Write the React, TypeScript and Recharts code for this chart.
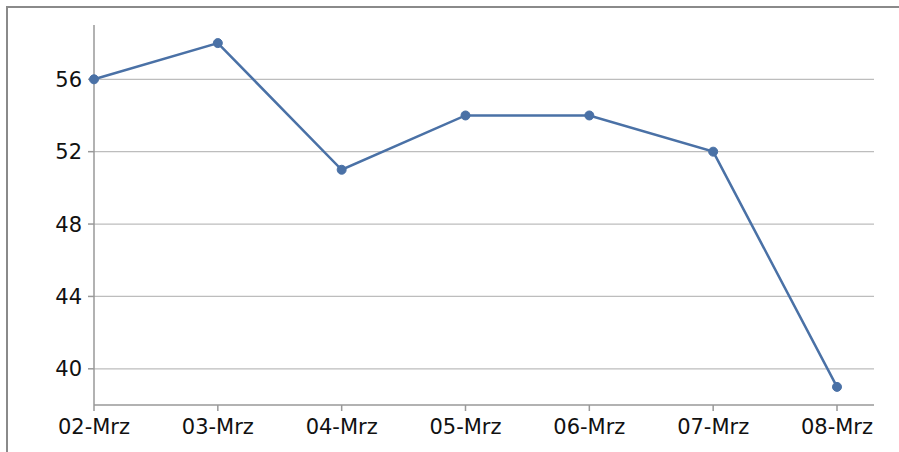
import { CartesianGrid, Line, LineChart, XAxis, YAxis } from "recharts";

const days = ["02-Mrz", "03-Mrz", "04-Mrz", "05-Mrz", "06-Mrz", "07-Mrz", "08-Mrz"];
const values = [56, 58, 51, 54, 54, 52, 39];
const yTicks = [40, 44, 48, 52, 56];

const data = days.map((day, i) => ({ day, value: values[i] }));

export default function App() {
  return (
    <div
      style={{
        position: "fixed",
        top: 0,
        left: 0,
        width: 899,
        height: 452,
        overflow: "hidden",
        background: "#fff",
      }}
    >
      <div
        style={{
          position: "absolute",
          left: 6,
          top: 6,
          width: 930,
          height: 480,
          border: "2px solid #8a8a8a",
          boxSizing: "border-box",
        }}
      />
      <div style={{ position: "absolute", left: 0, top: 0 }}>
        <LineChart
          width={899}
          height={452}
          data={data}
          margin={{ top: 25, right: 25, left: 34, bottom: 17 }}
          style={{ fontFamily: "DejaVu Sans" }}
        >
          <CartesianGrid
            vertical={false}
            horizontalValues={yTicks}
            stroke="#bdbdbd"
            strokeWidth={1.2}
          />
          <XAxis
            dataKey="day"
            height={30}
            padding={{ left: 0, right: 37 }}
            stroke="#999"
            strokeWidth={1.5}
            tickSize={6}
            tick={{ fill: "#111", fontSize: 21 }}
            tickMargin={8}
            interval={0}
          />
          <YAxis
            width={60}
            domain={[38, 59]}
            ticks={yTicks}
            allowDataOverflow
            stroke="#999"
            strokeWidth={1.5}
            tickSize={6}
            tick={{ fill: "#111", fontSize: 21 }}
            tickMargin={6}
          />
          <Line
            dataKey="value"
            stroke="#4a71a6"
            strokeWidth={2.5}
            dot={{ r: 4.5, fill: "#4a71a6", stroke: "#4a71a6", strokeWidth: 1 }}
            isAnimationActive={false}
          />
        </LineChart>
      </div>
    </div>
  );
}
